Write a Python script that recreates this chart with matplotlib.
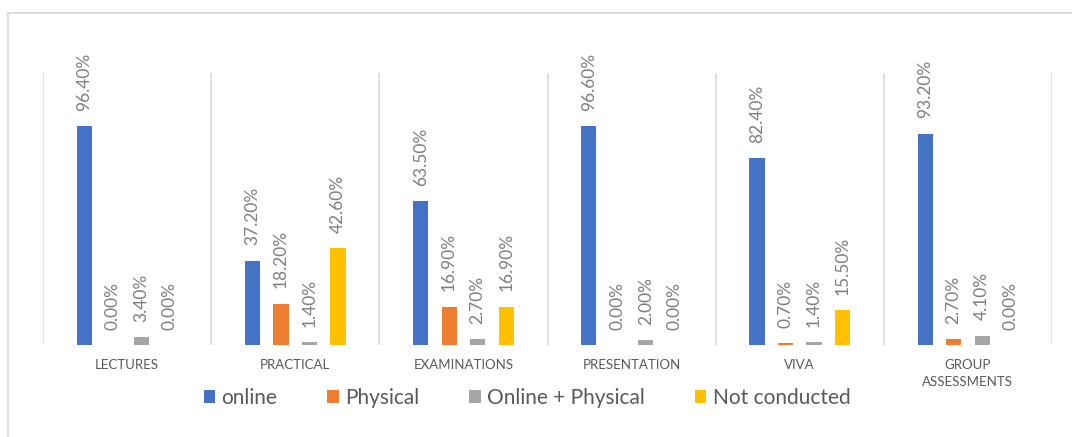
import matplotlib
matplotlib.use("Agg")
import matplotlib.pyplot as plt
import numpy as np
from matplotlib.patches import Rectangle

categories = ["LECTURES", "PRACTICAL", "EXAMINATIONS", "PRESENTATION", "VIVA", "GROUP\nASSESSMENTS"]
series_names = ["online", "Physical", "Online + Physical", "Not conducted"]
online = [96.4, 37.2, 63.5, 96.6, 82.4, 93.2]
physical = [0.0, 18.2, 16.9, 0.0, 0.7, 2.7]
online_physical = [3.4, 1.4, 2.7, 2.0, 1.4, 4.1]
not_conducted = [0.0, 42.6, 16.9, 0.0, 15.5, 0.0]
colors = ["#4472C4", "#ED7D31", "#A5A5A5", "#FFC000"]

plt.rcParams['font.family'] = ['Lato', 'DejaVu Sans']

W, H = 1072, 437
fig = plt.figure(figsize=(W / 100, H / 100), dpi=100)
fig.patches.append(Rectangle((8 / W, -0.1), 1.2, 1 - 13 / H + 0.1, transform=fig.transFigure,
                             fill=False, edgecolor="#d9d9d9", linewidth=1.3))

ax = fig.add_axes([43 / W, 1 - 345 / H, (1052 - 43) / W, (345 - 73) / H])
x = np.arange(len(categories))
offsets = [-0.254, -0.085, 0.085, 0.254]
bw = 0.09
all_series = [online, physical, online_physical, not_conducted]
for vals, off, c, name in zip(all_series, offsets, colors, series_names):
    bars = ax.bar(x + off, vals, width=bw, color=c, label=name)
    for b, v in zip(bars, vals):
        ax.annotate(f"{v:.2f}%", (b.get_x() + b.get_width() / 2, v),
                    xytext=(0, 11), textcoords="offset points", rotation=90,
                    ha="center", va="bottom", color="#7f7f7f", fontsize=12.5)

ax.set_xlim(-0.5, len(categories) - 0.5)
ax.set_ylim(0, 120)
for s in ax.spines.values():
    s.set_visible(False)
ax.set_yticks([])
ax.set_xticks(x)
ax.set_xticklabels(categories, fontsize=9.5, color="#595959", linespacing=1.5)
ax.tick_params(axis="x", length=0, pad=10)
for b in np.arange(-0.5, len(categories), 1.0):
    ax.axvline(b, color="#d9d9d9", linewidth=1.2, zorder=0)

leg = fig.legend(loc="center", bbox_to_anchor=(527 / W, 1 - 398 / H), ncol=4, frameon=False,
                 fontsize=15, handlelength=0.55, handleheight=0.55, handletextpad=0.3,
                 columnspacing=2.4, labelcolor="#595959")

fig.savefig("out.png", dpi=100)
